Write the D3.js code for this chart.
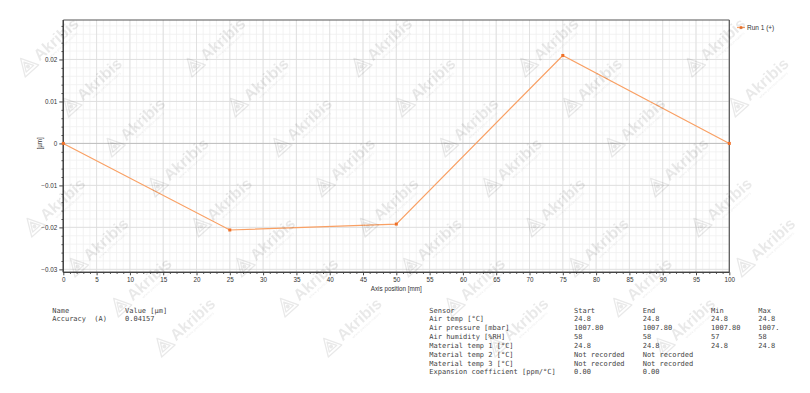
<!DOCTYPE html>
<html>
<head>
<meta charset="utf-8">
<script src="https://cdn.jsdelivr.net/npm/d3@7"></script>
<style>
  body { margin: 0; background: #fff; }
  svg { display: block; }
  .tick text { font-family: "Liberation Sans", Arial, sans-serif; font-size: 6.3px; fill: #333; }
  .tbl { font-family: "DejaVu Sans Mono", monospace; font-size: 7px; fill: #444; }
</style>
</head>
<body>
<div id="chart"></div>
<script>
// Data
const positions = [0, 25, 50, 75, 100];
const deviations = [0, -0.02062, -0.01921, 0.02095, 0];
const xTickValues = [0, 5, 10, 15, 20, 25, 30, 35, 40, 45, 50, 55, 60, 65, 70, 75, 80, 85, 90, 95, 100];
const yTickValues = [-0.03, -0.02, -0.01, 0, 0.01, 0.02];
const seriesName = "Run 1 (+)";

const resultNames = ["Accuracy"];
const resultCodes = ["(A)"];
const resultValues = ["0.04157"];

const sensorNames = ["Air temp [°C]", "Air pressure [mbar]", "Air humidity [%RH]", "Material temp 1 [°C]",
  "Material temp 2 [°C]", "Material temp 3 [°C]", "Expansion coefficient [ppm/°C]"];
const sensorStart = ["24.8", "1007.80", "58", "24.8", "Not recorded", "Not recorded", "0.00"];
const sensorEnd = ["24.8", "1007.80", "58", "24.8", "Not recorded", "Not recorded", "0.00"];
const sensorMin = ["24.8", "1007.80", "57", "24.8", "", "", ""];
const sensorMax = ["24.8", "1007.80", "58", "24.8", "", "", ""];

const W = 810, H = 393;
const plot = { left: 63.3, right: 729.3, top: 20, bottom: 272.3 };

const svg = d3.select("#chart").append("svg")
    .attr("width", W)
    .attr("height", H);

const x = d3.scaleLinear().domain([0, 100]).range([plot.left, plot.right]);
const y = d3.scaleLinear().domain([-0.0307, 0.0294]).range([plot.bottom, plot.top]);

// minor grid
const xMinor = d3.range(0, 101, 1);
const yMinor = d3.range(-30, 30, 2).map(v => v / 1000);
const grid = svg.append("g");
grid.selectAll(".vmin").data(xMinor).enter().append("line")
    .attr("x1", d => x(d)).attr("x2", d => x(d))
    .attr("y1", plot.top).attr("y2", plot.bottom)
    .attr("stroke", "#f0f0f0").attr("stroke-width", 0.8);
grid.selectAll(".hmin").data(yMinor.filter(v => y(v) > plot.top)).enter().append("line")
    .attr("x1", plot.left).attr("x2", plot.right)
    .attr("y1", d => y(d)).attr("y2", d => y(d))
    .attr("stroke", "#f0f0f0").attr("stroke-width", 0.8);
// major grid
grid.selectAll(".vmaj").data(xTickValues).enter().append("line")
    .attr("x1", d => x(d)).attr("x2", d => x(d))
    .attr("y1", plot.top).attr("y2", plot.bottom)
    .attr("stroke", "#dcdcdc").attr("stroke-width", 0.8);
grid.selectAll(".hmaj").data(yTickValues).enter().append("line")
    .attr("x1", plot.left).attr("x2", plot.right)
    .attr("y1", d => y(d)).attr("y2", d => y(d))
    .attr("stroke", d => d === 0 ? "#bdbdbd" : "#dcdcdc").attr("stroke-width", d => d === 0 ? 1 : 0.8);

// frame (top/right)
svg.append("line").attr("x1", plot.left).attr("x2", plot.right).attr("y1", plot.top).attr("y2", plot.top)
    .attr("stroke", "#555").attr("stroke-width", 1.2);
svg.append("line").attr("x1", plot.right).attr("x2", plot.right).attr("y1", plot.top).attr("y2", plot.bottom)
    .attr("stroke", "#555").attr("stroke-width", 1.2);

// axes
const xAxis = svg.append("g")
    .attr("transform", `translate(0,${plot.bottom})`)
    .call(d3.axisBottom(x).tickValues(xTickValues).tickSize(3).tickPadding(2).tickFormat(d3.format("d")));
const xMinorAxis = svg.append("g")
    .attr("transform", `translate(0,${plot.bottom})`)
    .call(d3.axisBottom(x).tickValues(xMinor.filter(v => v % 5 !== 0)).tickSize(1.6).tickFormat(""));
const yAxis = svg.append("g")
    .attr("transform", `translate(${plot.left},0)`)
    .call(d3.axisLeft(y).tickValues(yTickValues).tickSize(4).tickPadding(2)
        .tickFormat(d => d === 0 ? "0" : d3.format(".2f")(d)));
const yMinorAxis = svg.append("g")
    .attr("transform", `translate(${plot.left},0)`)
    .call(d3.axisLeft(y).tickValues(yMinor.filter(v => Math.round(v * 1000) % 10 !== 0 && y(v) > plot.top)).tickSize(1.8).tickFormat(""));
[xAxis, xMinorAxis, yAxis, yMinorAxis].forEach(a => {
    a.select(".domain").attr("stroke", "#444").attr("stroke-width", 1.2);
    a.selectAll(".tick line").attr("stroke", "#444");
});
xAxis.select(".domain").attr("d", `M${plot.left},0H${plot.right}`);
xMinorAxis.select(".domain").attr("d", `M${plot.left},0H${plot.right}`);
yAxis.select(".domain").attr("d", `M0,${plot.top}V${plot.bottom}`);
yMinorAxis.select(".domain").attr("d", `M0,${plot.top}V${plot.bottom}`);

// axis titles
svg.append("text")
    .attr("x", (plot.left + plot.right) / 2).attr("y", 290.5)
    .attr("text-anchor", "middle")
    .style("font-family", "Liberation Sans, Arial, sans-serif").style("font-size", "6.3px").style("fill", "#333")
    .text("Axis position [mm]");
svg.append("text")
    .attr("transform", `translate(42,${y(0)}) rotate(-90)`)
    .attr("text-anchor", "middle")
    .style("font-family", "Liberation Sans, Arial, sans-serif").style("font-size", "6.3px").style("fill", "#333")
    .text("[µm]");

// series
const pts = positions.map((p, i) => [p, deviations[i]]);
svg.append("path")
    .datum(pts)
    .attr("fill", "none")
    .attr("stroke", "#f9a064")
    .attr("stroke-width", 1.2)
    .attr("d", d3.line().x(d => x(d[0])).y(d => y(d[1])));
svg.selectAll(".pt").data(pts).enter().append("rect")
    .attr("x", d => x(d[0]) - 1.5).attr("y", d => y(d[1]) - 1.5)
    .attr("width", 3).attr("height", 3)
    .attr("fill", "#ef7028");

// legend
const lg = svg.append("g").attr("transform", "translate(737,27.5)");
lg.append("line").attr("x1", 0).attr("x2", 8).attr("stroke", "#f9a064").attr("stroke-width", 1.2);
lg.append("rect").attr("x", 2.7).attr("y", -1.3).attr("width", 2.6).attr("height", 2.6).attr("fill", "#ef7028");
lg.append("text").attr("x", 10).attr("y", 2.2)
    .style("font-family", "Liberation Sans, Arial, sans-serif").style("font-size", "6.5px").style("fill", "#333")
    .text(seriesName);

// result table
const rowY = i => 312.5 + i * 8.85;
const res = svg.append("g").attr("class", "tbl");
res.append("text").attr("x", 52.3).attr("y", rowY(0)).text("Name");
res.append("text").attr("x", 125).attr("y", rowY(0)).text("Value [µm]");
resultNames.forEach((n, i) => {
    res.append("text").attr("x", 52.3).attr("y", rowY(i + 1)).text(n);
    res.append("text").attr("x", 94.3).attr("y", rowY(i + 1)).text(resultCodes[i]);
    res.append("text").attr("x", 125).attr("y", rowY(i + 1)).text(resultValues[i]);
});

// sensor table (Max column cut by its panel, as in the original)
const cols = [
    { x: 429.3, head: "Sensor", vals: sensorNames },
    { x: 574, head: "Start", vals: sensorStart },
    { x: 642.7, head: "End", vals: sensorEnd },
    { x: 711, head: "Min", vals: sensorMin },
    { x: 758.3, head: "Max", vals: sensorMax, maxChars: 5 }
];
const st = svg.append("g").attr("class", "tbl");
cols.forEach(c => {
    const fit = v => c.maxChars && v.length > c.maxChars ? v.slice(0, c.maxChars) : v;
    st.append("text").attr("x", c.x).attr("y", rowY(0)).text(c.head);
    c.vals.forEach((v, i) => st.append("text").attr("x", c.x).attr("y", rowY(i + 1)).text(fit(v)));
});

// watermark tiles (only those that fit on the page)
const wm = svg.append("g").attr("opacity", 0.09).style("pointer-events", "none");
const ax = [43.3, 40], bx = [166.7, 0], origin = [193.3, 65];
for (let i = -12; i <= 12; i++) {
    for (let j = -6; j <= 8; j++) {
        const px = origin[0] + i * ax[0] + j * bx[0];
        const py = origin[1] + i * ax[1] + j * bx[1];
        if (px < 12 || px + 64 > W || py - 58 < 0 || py + 12 > H) continue;
        const g = wm.append("g").attr("transform", `translate(${px},${py}) rotate(-42)`);
        g.append("path")
            .attr("d", "M-9,8 L0,-9 L9,8 Z M-5,5 L0,-4 L5,5 Z")
            .attr("fill", "none").attr("stroke", "#000").attr("stroke-width", 1.3).attr("stroke-linejoin", "round");
        g.append("circle").attr("cx", 0).attr("cy", 2).attr("r", 2).attr("fill", "#000");
        g.append("text").attr("x", 12).attr("y", 6)
            .style("font-family", "Liberation Sans, Arial, sans-serif").style("font-weight", "bold")
            .style("font-size", "16px").text("Akribis");
        g.append("text").attr("x", 22).attr("y", 11)
            .style("font-family", "Liberation Sans, Arial, sans-serif").style("font-size", "3.5px")
            .text("where precision matters");
    }
}
</script>
</body>
</html>
